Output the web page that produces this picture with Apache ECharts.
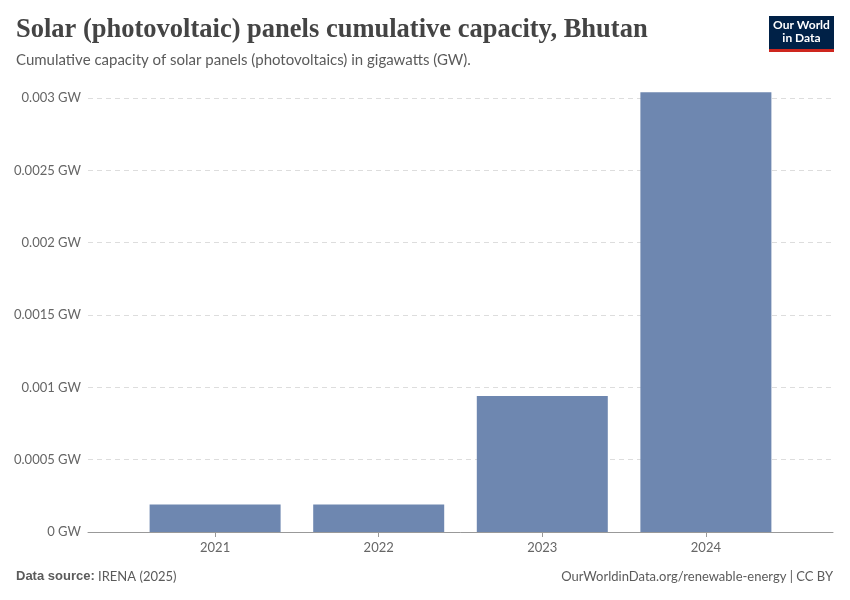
<!DOCTYPE html>
<html>
<head>
<meta charset="utf-8">
<script src="https://cdn.jsdelivr.net/npm/echarts@6/dist/echarts.min.js"></script>
<style>
  html, body { margin: 0; padding: 0; background: #fff; }
  #main { width: 850px; height: 600px; }
</style>
</head>
<body>
<div id="main"></div>
<script>
var years = [2021, 2022, 2023, 2024];
var capacity = [0.00019, 0.00019, 0.00094, 0.00304];
var yTicks = [0, 0.0005, 0.001, 0.0015, 0.002, 0.0025, 0.003];

var myChart = echarts.init(document.getElementById('main'));

var barData = years.map(function (y, i) { return [y, capacity[i]]; });

var option = {
    backgroundColor: '#fff',
    animation: false,
    textStyle: { fontFamily: 'Lato, "Noto Sans", sans-serif' },
    title: [
        {
            text: 'Solar (photovoltaic) panels cumulative capacity, Bhutan',
            left: 16, top: 17, padding: 0,
            textStyle: { fontFamily: '"Liberation Serif", "DejaVu Serif", serif', fontSize: 26.5, fontWeight: 'bold', color: '#444' }
        },
        {
            text: 'Cumulative capacity of solar panels (photovoltaics) in gigawatts (GW).',
            left: 16, top: 53, padding: 0,
            textStyle: { fontSize: 15, fontWeight: 'normal', color: '#5b5b5b' }
        }
    ],
    grid: { left: 88, right: 17, top: 98, bottom: 68, containLabel: false },
    xAxis: {
        type: 'value',
        min: 2020.223,
        max: 2024.777,
        splitLine: { show: false },
        axisLine: { show: true, lineStyle: { color: '#999' } },
        axisTick: { show: true, customValues: years, length: 5, lineStyle: { color: '#999' } },
        axisLabel: { customValues: years, color: '#666', fontSize: 13, margin: 9, formatter: function (v) { return String(v); } }
    },
    yAxis: {
        type: 'value',
        min: yTicks[0],
        max: yTicks[yTicks.length - 1],
        interval: 0.0005,
        axisLine: { show: false },
        axisTick: { show: false },
        axisLabel: {
            color: '#666', fontSize: 13, margin: 7,
            formatter: function (v) { return (v === 0 ? '0' : String(+v.toFixed(4))) + ' GW'; }
        },
        splitLine: { lineStyle: { color: '#ddd', type: [5, 4] } }
    },
    series: [
        {
            type: 'bar',
            data: barData,
            barWidth: 131,
            clip: false,
            itemStyle: { color: '#6e87b0' }
        }
    ],
    graphic: [
        { type: 'rect', shape: { x: 769, y: 16, width: 65, height: 33 }, style: { fill: '#002147' } },
        { type: 'rect', shape: { x: 769, y: 49, width: 65, height: 3 }, style: { fill: '#ce261e' } },
        { type: 'text', style: { x: 801.5, y: 19, text: 'Our World\nin Data', align: 'center', fill: '#fff', font: 'bold 12px Lato, sans-serif', lineHeight: 13 } },
        { type: 'text', style: { x: 16, y: 570, text: '{b|Data source:} IRENA (2025)', fill: '#5b5b5b', font: '13px Lato, sans-serif',
            rich: { b: { fontWeight: 'bold', fontSize: 13, fill: '#5b5b5b' } } } },
        { type: 'text', style: { x: 833, y: 570, text: 'OurWorldinData.org/renewable-energy | CC BY', align: 'right', fill: '#5b5b5b', font: '13px Lato, sans-serif' } }
    ]
};

myChart.setOption(option);
</script>
</body>
</html>
